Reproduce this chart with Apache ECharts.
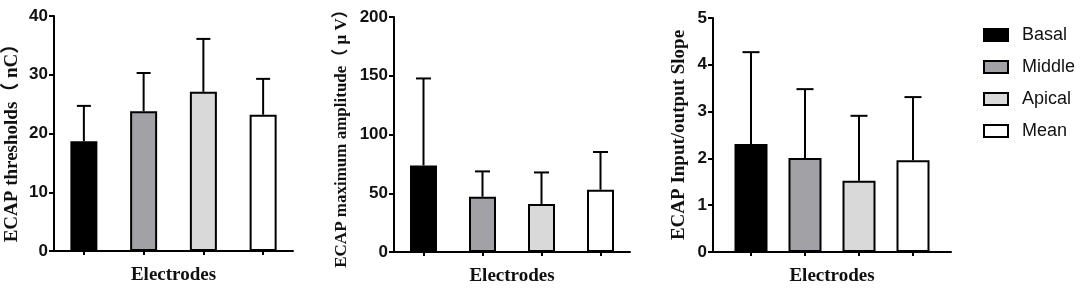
<!DOCTYPE html>
<html>
<head>
<meta charset="utf-8">
<script src="https://cdn.jsdelivr.net/npm/echarts@6/dist/echarts.min.js"></script>
<style>
  html, body { margin: 0; padding: 0; background: #fff; }
  #main { width: 1084px; height: 288px; }
</style>
</head>
<body>
<div id="main"></div>
<script>
var categories = ['Basal', 'Middle', 'Apical', 'Mean'];
var barColors = ['#000000', '#a2a2a6', '#d9d9d9', '#ffffff'];

// panel 1: thresholds (nC)
var thresholdMean = [18.7, 23.8, 27.1, 23.2];
var thresholdUpper = [24.7, 30.3, 36.1, 29.3];
// panel 2: maximum amplitude (uV)
var amplitudeMean = [73.7, 47.0, 40.9, 53.0];
var amplitudeUpper = [147.7, 68.6, 67.7, 85.1];
// panel 3: input/output slope
var slopeMean = [2.31, 2.01, 1.52, 1.96];
var slopeUpper = [4.27, 3.48, 2.91, 3.31];

var serifBold = { fontFamily: '"Liberation Serif", "Times New Roman", "Noto Sans CJK SC", serif', fontWeight: 'bold', color: '#111' };
var sansBold = { fontFamily: '"Liberation Sans", Arial, sans-serif', fontWeight: 'bold', fontSize: 17, color: '#111' };

var chart = echarts.init(document.getElementById('main'));

function yAxisOf(gridIndex, max, interval, name, gap, size, pad, show) {
    return {
        type: 'value', gridIndex: gridIndex, min: 0, max: max, interval: interval,
        show: show !== false,
        name: name, nameLocation: 'middle', nameGap: gap,
        nameTextStyle: Object.assign({ fontSize: size, padding: pad }, serifBold),
        axisLine: { show: true, lineStyle: { color: '#000', width: 2 } },
        axisTick: { show: true, length: 5, lineStyle: { color: '#000', width: 2 } },
        axisLabel: Object.assign({ margin: 6 }, sansBold),
        splitLine: { show: false }
    };
}

function catAxisOf(gridIndex, showLine, name) {
    return {
        type: 'category', gridIndex: gridIndex, data: categories,
        name: name, nameLocation: 'middle', nameGap: 15,
        nameTextStyle: Object.assign({ fontSize: 19 }, serifBold),
        axisLine: { show: showLine, lineStyle: { color: '#000', width: 2 } },
        axisTick: { show: true, alignWithLabel: true, length: 4, lineStyle: { color: '#000', width: 2 } },
        axisLabel: { show: false },
        splitLine: { show: false }
    };
}

function barsOf(axisIndex, means, width) {
    return categories.map(function (c, i) {
        return {
            name: c, type: 'bar', xAxisIndex: axisIndex, yAxisIndex: axisIndex,
            barWidth: width, barGap: '-100%',
            itemStyle: { color: barColors[i], borderColor: '#000', borderWidth: 2 },
            data: means.map(function (v, j) { return j === i ? v : '-'; })
        };
    });
}

function errorsOf(axisIndex, means, uppers, capHalf) {
    return {
        type: 'custom', xAxisIndex: axisIndex, yAxisIndex: axisIndex, z: 3,
        data: means.map(function (v, i) { return [i, v, uppers[i]]; }),
        renderItem: function (params, api) {
            var base = api.coord([api.value(0), api.value(1)]);
            var top = api.coord([api.value(0), api.value(2)]);
            var st = { stroke: '#000', lineWidth: 2 };
            return {
                type: 'group',
                children: [
                    { type: 'line', shape: { x1: top[0], y1: base[1], x2: top[0], y2: top[1] }, style: st },
                    { type: 'line', shape: { x1: top[0] - capHalf, y1: top[1], x2: top[0] + capHalf, y2: top[1] }, style: st }
                ]
            };
        }
    };
}

var option = {
    backgroundColor: '#fff',
    animation: false,
    legend: {
        data: categories, orient: 'vertical', left: 978, top: 21,
        icon: 'rect', itemWidth: 24, itemHeight: 12, itemGap: 14,
        textStyle: { fontFamily: '"Liberation Sans", Arial, sans-serif', fontSize: 18, color: '#111', padding: [0, 0, 0, 9] }
    },
    grid: [
        { left: 54, top: 16, width: 239, height: 235, outerBoundsMode: 'none' },
        { left: 394, top: 17, width: 236, height: 235, outerBoundsMode: 'none' },
        { left: 713, top: 18, width: 238, height: 234, outerBoundsMode: 'none' },
        { left: 724, top: 18, width: 216, height: 234, outerBoundsMode: 'none' }
    ],
    xAxis: [
        catAxisOf(0, true, 'Electrodes'),
        catAxisOf(1, true, 'Electrodes'),
        {
            type: 'value', gridIndex: 2, min: 0, max: 1,
            name: 'Electrodes', nameLocation: 'middle', nameGap: 15,
            nameTextStyle: Object.assign({ fontSize: 19 }, serifBold),
            axisLine: { show: true, lineStyle: { color: '#000', width: 2 } },
            axisTick: { show: false }, axisLabel: { show: false }, splitLine: { show: false }
        },
        catAxisOf(3, false, '')
    ],
    yAxis: [
        yAxisOf(0, 40, 10, 'ECAP thresholds（ nC）', 32, 19, [0, 10, 0, 0]),
        yAxisOf(1, 200, 50, 'ECAP maximum amplitude（ μ V）', 44, 17, 0),
        yAxisOf(2, 5, 1, 'ECAP Input/output Slope', 24, 19, 0),
        yAxisOf(3, 5, 1, '', 0, 18, 0, false)
    ],
    series: [].concat(
        barsOf(0, thresholdMean, 27),
        barsOf(1, amplitudeMean, 27),
        barsOf(3, slopeMean, 33),
        [errorsOf(0, thresholdMean, thresholdUpper, 7),
         errorsOf(1, amplitudeMean, amplitudeUpper, 7.5),
         errorsOf(3, slopeMean, slopeUpper, 8.5)]
    )
};
chart.setOption(option);
</script>
</body>
</html>
